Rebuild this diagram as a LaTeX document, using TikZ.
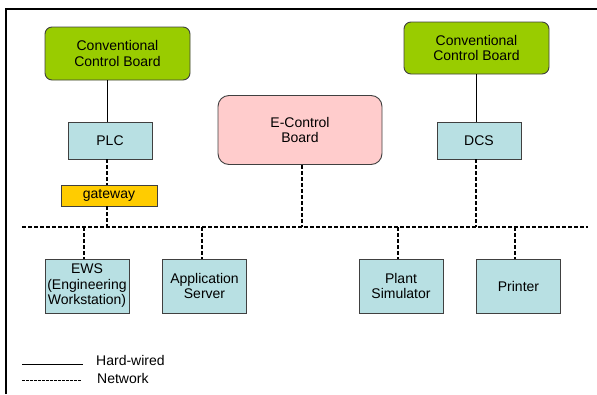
\documentclass[tikz,border=0pt]{standalone}
\usepackage{fontspec}
\setmainfont{Liberation Sans}
\usetikzlibrary{calc}
\definecolor{boardgreen}{HTML}{99CC00}
\definecolor{boardpink}{HTML}{FFCCCC}
\definecolor{unitblue}{HTML}{B8E0E3}
\definecolor{gateyellow}{HTML}{FFCC00}
\definecolor{edgegray}{HTML}{404040}
\tikzset{
  board/.style={draw=edgegray, line width=0.9pt, rounded corners=7pt, align=center, inner sep=0pt},
  unit/.style={draw=edgegray, line width=0.9pt, fill=unitblue, align=center, inner sep=0pt, minimum width=84, minimum height=37},
  station/.style={unit, minimum height=54},
  wire/.style={line width=0.9pt},
  net/.style={line width=1.1pt, dash pattern=on 4pt off 2pt},
}

\begin{document}
\begin{tikzpicture}[x=1pt, y=-1pt, font=\fontsize{14}{15.5}\selectfont]
		%%%%% START %%%%%
		\useasboundingbox (0, 0) rectangle (597, 394);
		
		% frame
		\draw[line width=2.6pt] (6, 394) -- (6, 9) -- (597, 9);
		
		% boards
		\node[board, fill=boardgreen, minimum width=145, minimum height=53] (ccbL) at (117.5, 53.5) {Conventional\\Control Board};
		\node[board, fill=boardgreen, minimum width=145, minimum height=52] (ccbR) at (476.5, 48) {Conventional\\Control Board};
		\node[board, fill=boardpink, rounded corners=11pt, minimum width=164, minimum height=69] (ecb) at (300, 130) {E-Control\\Board};
		
		% controllers
		\node[unit] (plc) at (110, 140.5) {PLC};
		\node[unit] (dcs) at (479, 140.5) {DCS};
		\node[draw=edgegray, line width=0.9pt, fill=gateyellow, inner sep=0pt, minimum width=96, minimum height=21] (gw) at (109, 195.5) {gateway};
		
		% stations
		\node[station] (ews) at (87, 286) {EWS\\(Engineering\\Workstation)};
		\node[station] (apps) at (204.5, 286) {Application\\Server};
		\node[station] (sim) at (401, 286) {Plant\\Simulator};
		\node[station] (prn) at (518.5, 286) {Printer};
		
		% network bus
		\coordinate (netW) at (22, 227);
		\coordinate (netE) at (588, 227);
		\coordinate (tapPLC) at (107, 227);
		\coordinate (tapE) at (302, 227);
		\coordinate (tapDCS) at (476, 227);
		\coordinate (tapEWS) at (84, 227);
		\coordinate (tapApp) at (202, 227);
		\coordinate (tapSim) at (398, 227);
		\coordinate (tapPrn) at (515, 227);
		\draw[net] (netW) -- (netE);
		
		\draw[wire] (ccbL.south -| tapPLC) -- (plc.north -| tapPLC);
		\draw[wire] (ccbR.south -| tapDCS) -- (dcs.north -| tapDCS);
		\draw[net] (plc.south -| tapPLC) -- (gw.north -| tapPLC);
		\draw[net] (gw.south -| tapPLC) -- (tapPLC);
		\draw[net] (ecb.south -| tapE) -- (tapE);
		\draw[net] (dcs.south -| tapDCS) -- (tapDCS);
		\draw[net] (tapEWS) -- (ews.north -| tapEWS);
		\draw[net] (tapApp) -- (apps.north -| tapApp);
		\draw[net] (tapSim) -- (sim.north -| tapSim);
		\draw[net] (tapPrn) -- (prn.north -| tapPrn);
		
		% legend
		\coordinate (hwA) at (22, 364);
		\coordinate (hwB) at (83, 364);
		\coordinate (nwA) at (22, 380);
		\coordinate (nwB) at (82, 380);
		\draw[wire] (hwA) -- (hwB);
		\draw[net, line width=0.9pt, dash pattern=on 2.5pt off 1.5pt] (nwA) -- (nwB);
		\node[anchor=west, inner sep=0pt] (hwtext) at (96, 360) {Hard-wired};
		\node[anchor=west, inner sep=0pt] (nwtext) at (97, 378) {Network};
		
		%%%%% END %%%%%
	\end{tikzpicture}
\end{document}
